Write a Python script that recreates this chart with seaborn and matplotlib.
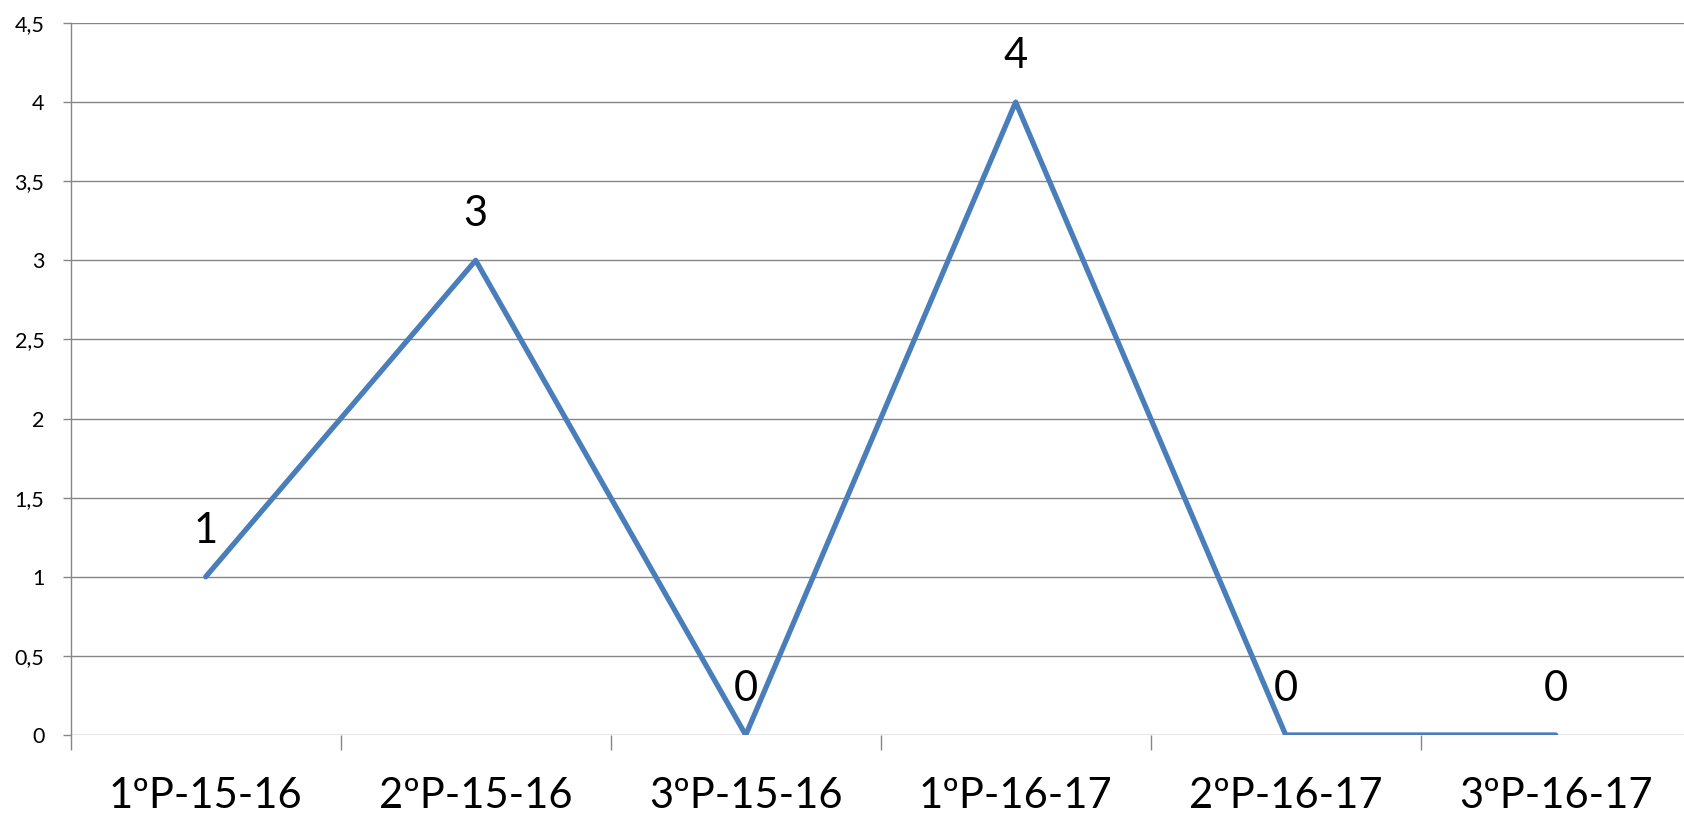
import matplotlib
matplotlib.use("Agg")
import matplotlib.pyplot as plt
from matplotlib.ticker import FixedLocator, FuncFormatter
import seaborn as sns
import pandas as pd

periods = ["1ºP-15-16", "2ºP-15-16", "3ºP-15-16", "1ºP-16-17", "2ºP-16-17", "3ºP-16-17"]
values = [1, 3, 0, 4, 0, 0]
y_ticks = [0, 0.5, 1, 1.5, 2, 2.5, 3, 3.5, 4, 4.5]

sns.set_style("white")
plt.rcParams["font.family"] = ["Lato", "DejaVu Sans"]

line_color = "#4A7EBB"
grid_color = "#868686"

df = pd.DataFrame({"periodo": periods, "valor": values})

fig = plt.figure(figsize=(16.84, 8.15), dpi=100)
ax = fig.add_axes([70.7 / 1684, 80 / 815, 1620 / 1684, 712 / 815])

sns.lineplot(data=df, x="periodo", y="valor", sort=False, ax=ax,
             color=line_color, linewidth=3.8, zorder=3)

ax.set_xlim(-0.5, len(periods) - 0.5)
ax.set_ylim(0, 4.5)
ax.set_xlabel("")
ax.set_ylabel("")

# horizontal gridlines
ax.yaxis.set_major_locator(FixedLocator(y_ticks))
ax.yaxis.set_major_formatter(FuncFormatter(
    lambda v, _: (f"{v:g}").replace(".", ",")))
ax.grid(axis="y", color=grid_color, linewidth=1.0)
ax.grid(axis="x", visible=False)
ax.set_axisbelow(True)

for side in ["top", "right", "bottom"]:
    ax.spines[side].set_visible(False)
ax.spines["left"].set_color(grid_color)
ax.spines["left"].set_linewidth(1.0)

ax.tick_params(axis="y", which="major", left=True, length=6, width=1.0,
               color=grid_color, pad=13, labelsize=15.5, labelcolor="black")

# category labels centred, boundary ticks between categories
ax.set_xticks(range(len(periods)))
ax.set_xticklabels(periods)
ax.xaxis.set_minor_locator(FixedLocator([i - 0.5 for i in range(len(periods) + 1)]))
ax.tick_params(axis="x", which="major", bottom=False, length=0, pad=30,
               labelsize=30, labelcolor="black")
ax.tick_params(axis="x", which="minor", bottom=True, length=11, width=1.0,
               color=grid_color)

# value labels above each point
for i, v in enumerate(values):
    ax.annotate(f"{v:g}", xy=(i, v), xytext=(0, 33), textcoords="offset points",
                ha="center", va="center", fontsize=30, color="black",
                annotation_clip=False)

fig.savefig("out.png", dpi=100)
